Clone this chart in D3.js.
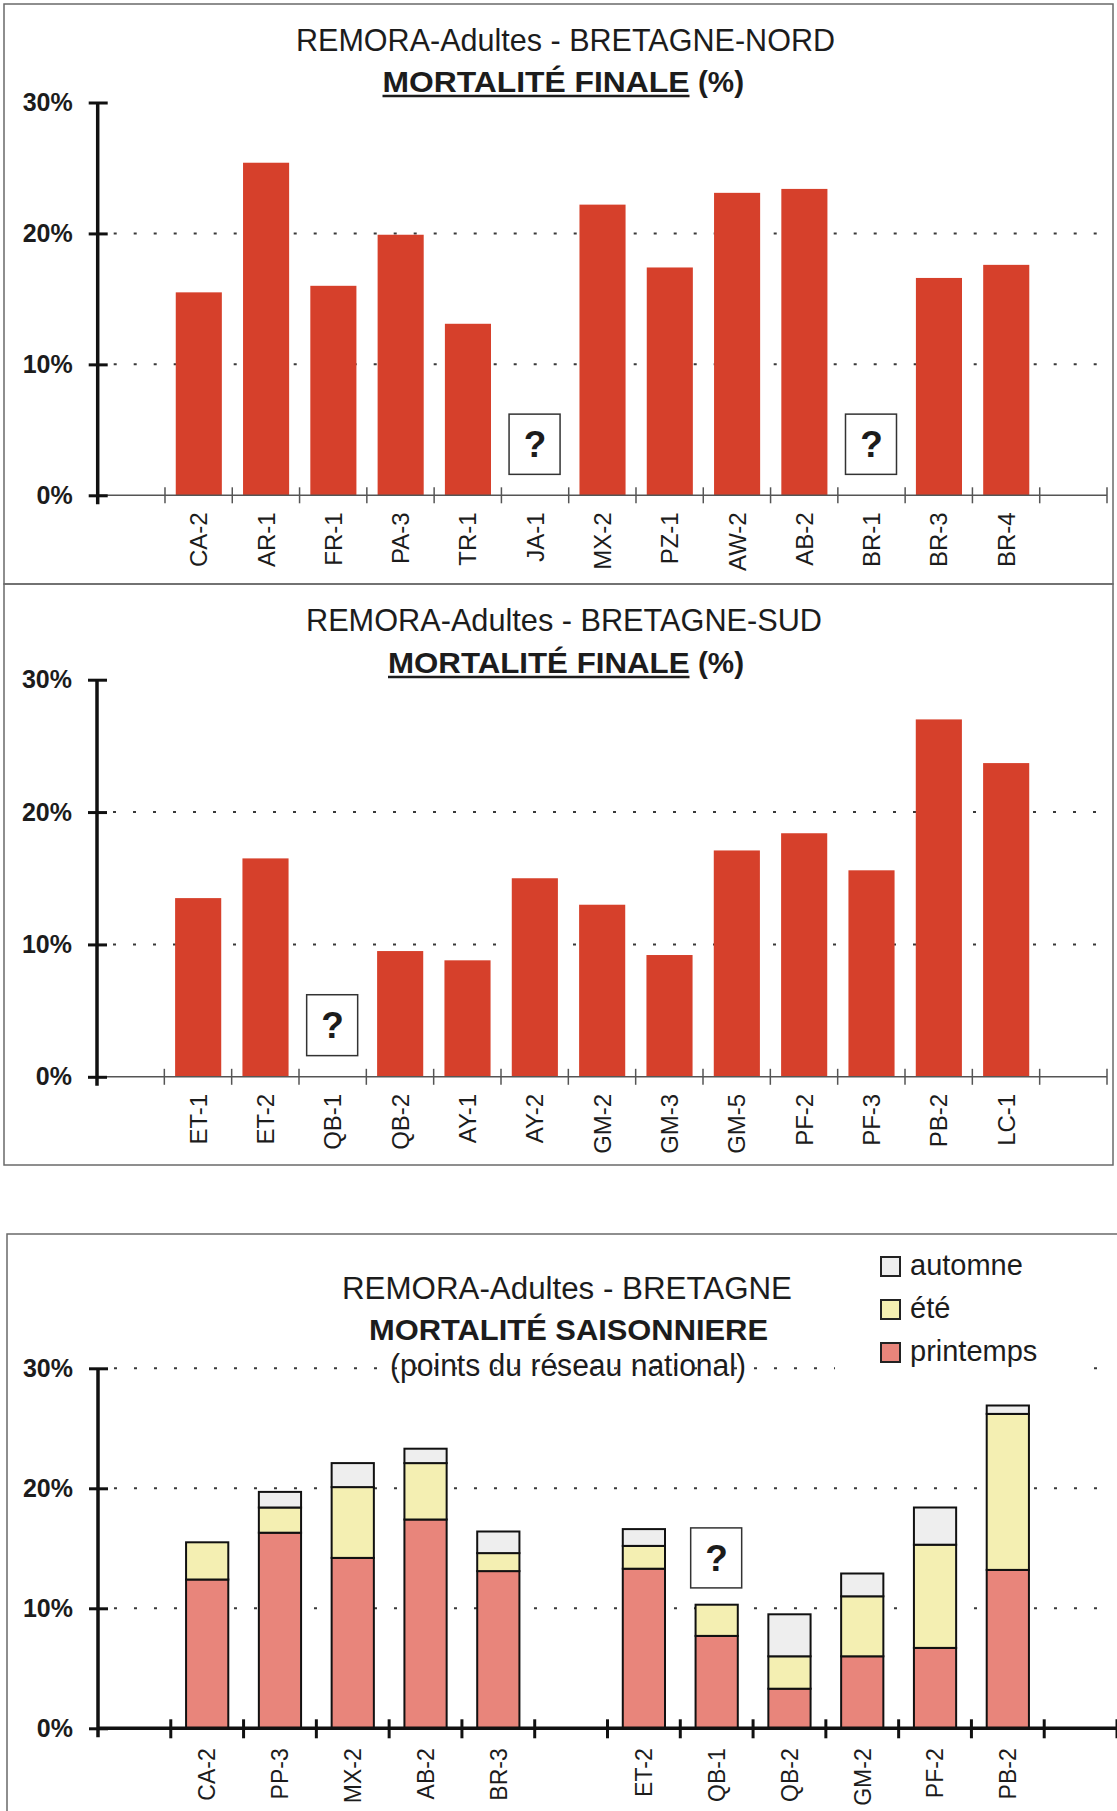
<!DOCTYPE html>
<html>
<head>
<meta charset="utf-8">
<script src="https://cdn.jsdelivr.net/npm/d3@7"></script>
<style>
body { margin: 0; background: #fff; }
svg text { font-family: "Liberation Sans", Arial, sans-serif; fill: #1c1c1c; }
</style>
</head>
<body>
<svg id="chart" width="1117" height="1811"></svg>
<script>
// Bretagne-Nord, mortalite finale (%)
var nordSites = ["CA-2", "AR-1", "FR-1", "PA-3", "TR-1", "JA-1", "MX-2", "PZ-1", "AW-2", "AB-2", "BR-1", "BR-3", "BR-4"];
var nordMort = [15.5, 25.4, 16.0, 19.9, 13.1, null, 22.2, 17.4, 23.1, 23.4, null, 16.6, 17.6];
var nordUnknown = ["JA-1", "BR-1"];

// Bretagne-Sud, mortalite finale (%)
var sudSites = ["ET-1", "ET-2", "QB-1", "QB-2", "AY-1", "AY-2", "GM-2", "GM-3", "GM-5", "PF-2", "PF-3", "PB-2", "LC-1"];
var sudMort = [13.5, 16.5, null, 9.5, 8.8, 15.0, 13.0, 9.2, 17.1, 18.4, 15.6, 27.0, 23.7];
var sudUnknown = ["QB-1"];

// Bretagne, mortalite saisonniere (%), "" = espace entre nord et sud
var saisonSites = ["CA-2", "PP-3", "MX-2", "AB-2", "BR-3", "", "ET-2", "QB-1", "QB-2", "GM-2", "PF-2", "PB-2"];
var printemps = [12.4, 16.3, 14.2, 17.4, 13.1, null, 13.3, 7.7, 3.3, 6.0, 6.7, 13.2];
var ete = [3.1, 2.1, 5.9, 4.7, 1.5, null, 1.9, 2.6, 2.7, 5.0, 8.6, 13.0];
var automne = [0, 1.3, 2.0, 1.2, 1.8, null, 1.4, 0, 3.5, 1.9, 3.1, 0.7];
var saisonUnknown = ["QB-1"];
var seasons = ["automne", "été", "printemps"];

var yTicks = [0, 10, 20, 30];
var yGridFinal = [10, 20];
var yGridSaison = [10, 20, 30];

var svg = d3.select("#chart");

function put_text(g, str, x0, x1, baseline, size, weight)
{
    return g.append("text")
        .attr("x", x0)
        .attr("y", baseline)
        .attr("textLength", x1 - x0)
        .attr("lengthAdjust", "spacingAndGlyphs")
        .style("font-size", size + "px")
        .style("font-weight", weight)
        .text(str);
}

function draw_y_axis(g, y, left, thick)
{
    var ax = g.append("g")
        .attr("transform", "translate(" + left + ",0)")
        .call(d3.axisLeft(y).tickValues(yTicks).tickSize(9).tickPadding(16)
            .tickFormat(function(d) { return d + "%"; }));
    ax.select(".domain").remove();
    ax.selectAll(".tick line")
        .attr("x1", 10)
        .attr("stroke", "#111")
        .attr("stroke-width", 3);
    ax.selectAll(".tick text")
        .style("font-size", "25px")
        .style("font-weight", "bold")
        .style("font-family", "Liberation Sans, Arial, sans-serif")
        .attr("fill", "#1c1c1c");
    g.append("line")
        .attr("x1", left).attr("x2", left)
        .attr("y1", y(30)).attr("y2", y(0) + 9)
        .attr("stroke", "#111")
        .attr("stroke-width", thick);
}

function draw_x_axis(g, x, y, labels, opt)
{
    var n = x.domain().length;
    var bounds = d3.range(1, n + 1).map(function(i) {
        return i < n ? x(i) : x.range()[1];
    });

    g.append("line")
        .attr("x1", x.range()[0]).attr("x2", x.range()[1])
        .attr("y1", y(0)).attr("y2", y(0))
        .attr("stroke", opt.color)
        .attr("stroke-width", opt.width);

    g.selectAll(".xtick-" + opt.id)
        .data(bounds)
        .enter().append("line")
        .attr("x1", function(d) { return d; })
        .attr("x2", function(d) { return d; })
        .attr("y1", y(0) - opt.up)
        .attr("y2", y(0) + opt.down)
        .attr("stroke", opt.color)
        .attr("stroke-width", opt.tickWidth);

    var ax = g.append("g")
        .attr("transform", "translate(0," + y(0) + ")")
        .call(d3.axisBottom(x).tickSize(0)
            .tickFormat(function(i) { return labels[i - 1] || ""; }));
    ax.select(".domain").remove();
    ax.selectAll(".tick text")
        .attr("transform", "rotate(-90)")
        .attr("x", -opt.gap)
        .attr("y", 0)
        .attr("dy", "0.36em")
        .style("text-anchor", "end")
        .style("font-size", opt.size + "px")
        .style("font-family", "Liberation Sans, Arial, sans-serif")
        .attr("fill", "#1c1c1c");
}

function draw_unknown(g, x, y, sites, unknown, lo, hi)
{
    var boxes = g.selectAll(".qbox")
        .data(unknown)
        .enter().append("g");
    boxes.append("rect")
        .attr("x", function(d) { return x(sites.indexOf(d) + 1) + x.bandwidth() / 2 - 26; })
        .attr("y", y(hi))
        .attr("width", 51)
        .attr("height", y(lo) - y(hi))
        .attr("fill", "#fff")
        .attr("stroke", "#333")
        .attr("stroke-width", 1.5);
    boxes.append("text")
        .attr("x", function(d) { return x(sites.indexOf(d) + 1) + x.bandwidth() / 2; })
        .attr("y", (y(lo) + y(hi)) / 2 + 13)
        .attr("text-anchor", "middle")
        .style("font-size", "37px")
        .style("font-weight", "bold")
        .text("?");
}

function build_final(cfg)
{
    var g = svg.append("g");

    var x = d3.scaleBand()
        .domain(d3.range(cfg.sites.length + 2))
        .range([cfg.left, cfg.right]);
    var y = d3.scaleLinear()
        .domain([0, 30])
        .range([cfg.bottom, cfg.top]);

    g.append("rect")
        .attr("x", cfg.box[0]).attr("y", cfg.box[1])
        .attr("width", cfg.box[2]).attr("height", cfg.box[3])
        .attr("fill", "none")
        .attr("stroke", "#6a6a6a")
        .attr("stroke-width", 1.5);

    g.selectAll(".grid")
        .data(yGridFinal)
        .enter().append("line")
        .attr("x1", cfg.left + 16).attr("x2", cfg.right - 10)
        .attr("y1", function(d) { return y(d); })
        .attr("y2", function(d) { return y(d); })
        .attr("stroke", "#3a3a3a")
        .attr("stroke-width", 2)
        .attr("stroke-dasharray", "3,17");

    var data = cfg.values.map(function(v, i) { return {i: i + 1, v: v}; })
        .filter(function(d) { return d.v != null; });

    g.selectAll(".bar")
        .data(data)
        .enter().append("rect")
        .attr("x", function(d) { return x(d.i) + x.bandwidth() * 0.16; })
        .attr("width", x.bandwidth() * 0.685)
        .attr("y", function(d) { return y(d.v); })
        .attr("height", function(d) { return y(0) - y(d.v); })
        .attr("fill", "#d6402b");

    draw_x_axis(g, x, y, cfg.sites, {id: cfg.id, color: "#555", width: 1.5, tickWidth: 1.5,
        up: 8, down: 8, gap: 17, size: 24});
    draw_y_axis(g, y, cfg.left, 3.5);
    draw_unknown(g, x, y, cfg.sites, cfg.unknown, 1.6, 6.2);

    // titres
    put_text(g, cfg.title, cfg.t1[0], cfg.t1[1], cfg.t1[2], 32, "normal");
    put_text(g, cfg.sub, cfg.t2[0], cfg.t2[1], cfg.t2[2], 30, "bold");
    put_text(g, "(%)", 698, 744, cfg.t2[2], 30, "bold");
    g.append("line")
        .attr("x1", cfg.t2[0]).attr("x2", cfg.t2[1])
        .attr("y1", cfg.t2[2] + 4).attr("y2", cfg.t2[2] + 4)
        .attr("stroke", "#1c1c1c")
        .attr("stroke-width", 2.5);
}

function build_saison()
{
    var g = svg.append("g");
    var top = 1368.3, bottom = 1728.3, left = 98, right = 1117;

    var x = d3.scaleBand()
        .domain(d3.range(saisonSites.length + 2))
        .range([left, right]);
    var y = d3.scaleLinear()
        .domain([0, 30])
        .range([bottom, top]);
    var color = d3.scaleOrdinal()
        .domain(seasons)
        .range(["#eeeeee", "#f4efb2", "#e8857b"]);

    g.append("rect")
        .attr("x", 7).attr("y", 1234)
        .attr("width", 1130).attr("height", 620)
        .attr("fill", "none")
        .attr("stroke", "#6a6a6a")
        .attr("stroke-width", 1.5);

    g.selectAll(".grid")
        .data(yGridSaison)
        .enter().append("line")
        .attr("x1", left + 16).attr("x2", right - 8)
        .attr("y1", function(d) { return y(d); })
        .attr("y2", function(d) { return y(d); })
        .attr("stroke", "#3a3a3a")
        .attr("stroke-width", 2)
        .attr("stroke-dasharray", "3,17");

    var rows = saisonSites.map(function(s, i) {
        return {i: i + 1, "printemps": printemps[i], "été": ete[i], "automne": automne[i]};
    }).filter(function(d) { return d.printemps != null; });

    var stack = d3.stack().keys(["printemps", "été", "automne"]);
    var layers = stack(rows);

    g.selectAll(".layer")
        .data(layers)
        .enter().append("g")
        .attr("fill", function(d) { return color(d.key); })
        .selectAll("rect")
        .data(function(d) { return d.filter(function(p) { return p[1] > p[0]; }); })
        .enter().append("rect")
        .attr("x", function(d) { return x(d.data.i) + x.bandwidth() * 0.21; })
        .attr("width", x.bandwidth() * 0.58)
        .attr("y", function(d) { return y(d[1]); })
        .attr("height", function(d) { return y(d[0]) - y(d[1]); })
        .attr("stroke", "#111")
        .attr("stroke-width", 2);

    draw_x_axis(g, x, y, saisonSites, {id: "s", color: "#111", width: 3.5, tickWidth: 3,
        up: 9, down: 10, gap: 20, size: 23});
    draw_y_axis(g, y, left, 3.5);
    draw_unknown(g, x, y, saisonSites, saisonUnknown, 11.7, 16.7);

    // legende
    g.append("rect")
        .attr("x", 835).attr("y", 1245)
        .attr("width", 252).attr("height", 128)
        .attr("fill", "#fff");
    var leg = g.selectAll(".leg")
        .data(seasons)
        .enter().append("g")
        .attr("transform", function(d, i) { return "translate(881," + (1257 + i * 43) + ")"; });
    leg.append("rect")
        .attr("width", 19).attr("height", 19)
        .attr("fill", function(d) { return color(d); })
        .attr("stroke", "#222")
        .attr("stroke-width", 2);
    leg.append("text")
        .attr("x", 29).attr("y", 18)
        .style("font-size", "29px")
        .text(function(d) { return d; });

    // titres
    put_text(g, "REMORA-Adultes  - BRETAGNE", 342, 792, 1299, 31, "normal");
    put_text(g, "MORTALITÉ SAISONNIERE", 369, 768, 1340, 30, "bold");
    put_text(g, "(points du réseau national)", 390, 746, 1376, 31, "normal");
}

build_final({id: "n", sites: nordSites, values: nordMort, unknown: nordUnknown,
    left: 97.7, right: 1107, top: 102.5, bottom: 495.3, box: [4, 4, 1109, 580],
    title: "REMORA-Adultes - BRETAGNE-NORD", t1: [296, 835, 51],
    sub: "MORTALITÉ  FINALE", t2: [382.5, 689.5, 92]});

build_final({id: "s", sites: sudSites, values: sudMort, unknown: sudUnknown,
    left: 97, right: 1107, top: 679.7, bottom: 1076.8, box: [4, 584, 1109, 581],
    title: "REMORA-Adultes - BRETAGNE-SUD", t1: [306, 822, 631],
    sub: "MORTALITÉ FINALE", t2: [388, 689.5, 673]});

build_saison();
</script>
</body>
</html>
